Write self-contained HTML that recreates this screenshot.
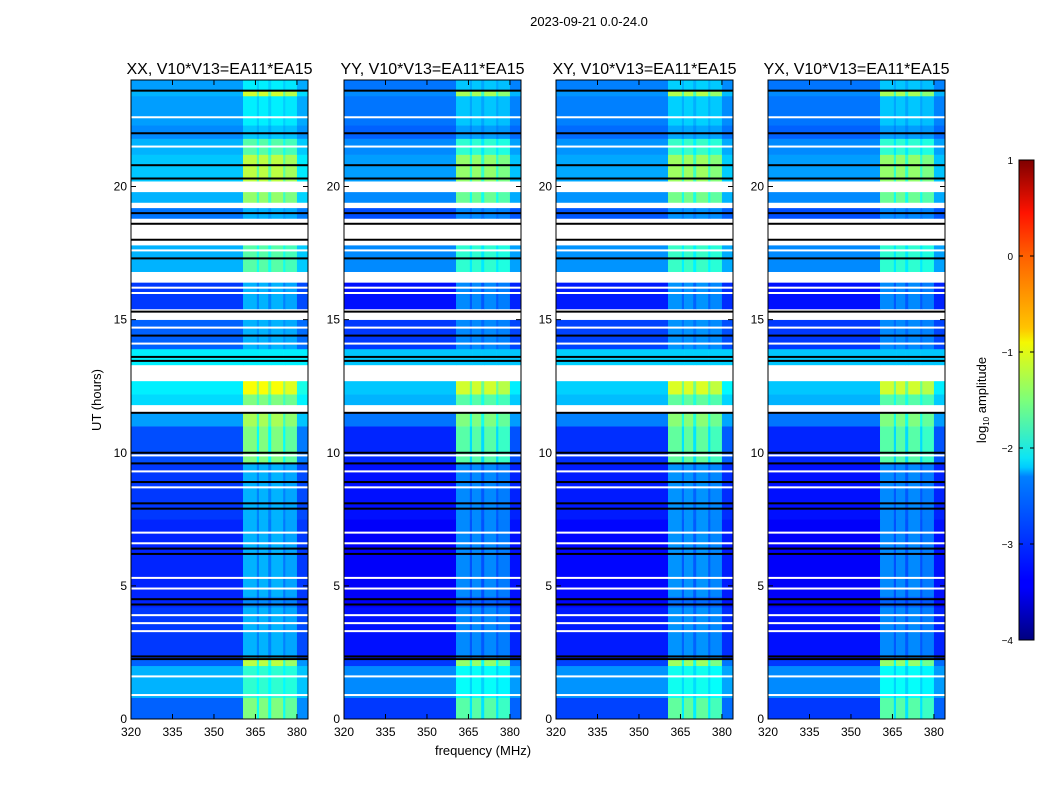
<!DOCTYPE html>
<html><head><meta charset="utf-8">
<style>
html,body{margin:0;padding:0;background:#fff;}
svg{display:block;font-family:"Liberation Sans","DejaVu Sans",sans-serif;}
</style></head>
<body>
<svg id="chart" width="1050" height="800" viewBox="0 0 1050 800">
<defs>
<linearGradient id="jet" x1="0" y1="1" x2="0" y2="0">
<stop offset="0" stop-color="#00007f"/><stop offset="0.11" stop-color="#0000ff"/>
<stop offset="0.125" stop-color="#0000ff"/><stop offset="0.34" stop-color="#0080ff"/>
<stop offset="0.36" stop-color="#00ccff"/><stop offset="0.38" stop-color="#0de5f4"/>
<stop offset="0.5" stop-color="#7dff7a"/><stop offset="0.62" stop-color="#f4f802"/>
<stop offset="0.65" stop-color="#ffc400"/><stop offset="0.8" stop-color="#ff6000"/>
<stop offset="0.89" stop-color="#ff1300"/><stop offset="1" stop-color="#7f0000"/>
</linearGradient>
</defs>
<text x="589" y="26" font-size="13" text-anchor="middle">2023-09-21 0.0-24.0</text>
<text transform="translate(101,400) rotate(-90)" font-size="13" text-anchor="middle">UT (hours)</text>
<text x="483" y="755" font-size="13" text-anchor="middle">frequency (MHz)</text>
<g id="panels"></g>
<g>
<rect x="1019" y="160" width="15" height="480" fill="url(#jet)" stroke="#000" stroke-width="1"/>
<g id="cbticks"></g>
<text transform="translate(986,400) rotate(-90)" font-size="13" text-anchor="middle">log<tspan font-size="8" dy="3">10</tspan><tspan dy="-3"> amplitude</tspan></text>
</g>
</svg>
<script>
// ---- data ----
const panelTitles = ["XX, V10*V13=EA11*EA15","YY, V10*V13=EA11*EA15","XY, V10*V13=EA11*EA15","YX, V10*V13=EA11*EA15"];
const panelOffset = [0.1, -0.1, -0.05, -0.1];
// time segments (hours): start, end, off-band level, in-band level (null = flagged/white)
const segStart = [0.0,0.8,2.0,2.3,4.2,4.6,7.5,9.6,11.0,11.5,11.8,12.2,12.7,13.3,13.9,15.0,15.4,16.4,16.8,17.8,18.8,19.2,19.4,19.8,20.2,21.2,21.8,22.3,23.4,23.6];
const segEnd   = [0.8,2.0,2.3,4.2,4.6,7.5,9.6,11.0,11.5,11.8,12.2,12.7,13.3,13.9,15.0,15.4,16.4,16.8,17.8,18.8,19.2,19.4,19.8,20.2,21.2,21.8,22.3,23.4,23.6,24.0];
const segBase  = [-3.0,-2.6,-3.0,-3.2,-3.3,-3.3,-3.2,-3.1,-2.7,null,-2.4,-2.3,null,-2.3,-3.0,null,-3.2,null,-2.6,null,-2.9,null,-2.6,null,-2.5,-2.6,-2.8,-2.7,-2.6,-2.7];
const segBand  = [-1.6,-2.0,-1.3,-2.6,-2.8,-2.6,-2.6,-1.6,-1.4,null,-1.6,-1.0,null,-2.3,-2.6,null,-2.6,null,-1.8,null,-2.6,null,-1.5,null,-1.3,-1.8,-2.5,-2.3,-1.2,-2.3];
// frequency bins (MHz) and in-band weights
const freqEdges = [320,360.5,365.5,366.3,369.6,370.7,375,375.8,380,384];
const bandWeight = [0,1,0.6,1,0.6,1,0.6,0.9,0.15];
// thin flag lines (hours)
const blackLines = [2.25,2.35,4.3,4.5,6.2,6.4,7.9,8.1,8.9,9.6,10.0,11.5,13.45,13.6,14.4,15.3,17.3,18.0,18.6,19.0,20.3,20.8,22.0,23.6];
const whiteLines = [0.9,1.6,3.3,3.6,3.9,4.9,5.3,6.6,7.0,8.7,9.3,9.9,12.9,14.1,14.7,16.0,16.2,17.6,18.2,21.5,22.6];
const xTicks = [320,335,350,365,380];
const yTicks = [0,5,10,15,20];
const cbTicks = [-4,-3,-2,-1,0,1];

// ---- scales ----
const panelLeft = [131,344,556,768], pW = 177, pTop = 80, pH = 639;
const fMin = 320, fMax = 384, hMin = 0, hMax = 24, vMin = -4, vMax = 1;
function xs(p, f){ return panelLeft[p] + (f - fMin) / (fMax - fMin) * pW; }
function ys(h){ return pTop + pH - (h - hMin) / (hMax - hMin) * pH; }
function jet(v){
  let t = Math.max(0, Math.min(1, (v - vMin) / (vMax - vMin)));
  const c = x => Math.round(255 * Math.max(0, Math.min(1, 1.5 - Math.abs(4 * t - x))));
  return `rgb(${c(3)},${c(2)},${c(1)})`;
}
const NS = "http://www.w3.org/2000/svg";
function mk(tag, attrs, parent){
  const e = document.createElementNS(NS, tag);
  for (const k in attrs) e.setAttribute(k, attrs[k]);
  parent.appendChild(e); return e;
}
const root = document.getElementById("panels");
for (let p = 0; p < 4; p++){
  const g = mk("g", {}, root);
  
  
  for (let s = 0; s < segStart.length; s++){
    const y0 = ys(segEnd[s]), y1 = ys(segStart[s]);
    for (let b = 0; b < bandWeight.length; b++){
      const x0 = xs(p, freqEdges[b]), x1 = xs(p, freqEdges[b+1]);
      let fill = "#fff";
      if (segBase[s] !== null){
        const base = segBase[s] + panelOffset[p], band = segBand[s] + panelOffset[p];
        fill = jet(base + (band - base) * bandWeight[b]);
      }
      const r = mk("rect", {x:x0.toFixed(2), y:y0.toFixed(2), width:(x1-x0+0.3).toFixed(2), height:(y1-y0+0.3).toFixed(2), fill:fill}, g);
      
      
    }
  }
  blackLines.forEach(h => {
    const l = mk("rect", {x:panelLeft[p], y:(ys(h)-1).toFixed(2), width:pW, height:2, fill:"#000"}, g);
    
    
  });
  whiteLines.forEach(h => {
    const l = mk("rect", {x:panelLeft[p], y:(ys(h)-1).toFixed(2), width:pW, height:2, fill:"#fff"}, g);
    
    
  });
  const fr = mk("rect", {x:panelLeft[p], y:pTop, width:pW, height:pH, fill:"none", stroke:"#000", "stroke-width":1}, g);
  
  
  const t = mk("text", {x:panelLeft[p] + pW/2, y:74, "font-size":16, "text-anchor":"middle"}, g);
  t.textContent = panelTitles[p];
  
  
  xTicks.forEach(f => {
    const x = xs(p, f);
    mk("line", {x1:x, x2:x, y1:pTop+pH, y2:pTop+pH-5, stroke:"#000"}, g);
    mk("line", {x1:x, x2:x, y1:pTop, y2:pTop+5, stroke:"#000"}, g);
    const tl = mk("text", {x:x, y:pTop+pH+17, "font-size":12, "text-anchor":"middle"}, g);
    tl.textContent = f;
    
    
  });
  yTicks.forEach(h => {
    const y = ys(h);
    mk("line", {x1:panelLeft[p], x2:panelLeft[p]+5, y1:y, y2:y, stroke:"#000"}, g);
    mk("line", {x1:panelLeft[p]+pW, x2:panelLeft[p]+pW-5, y1:y, y2:y, stroke:"#000"}, g);
    const tl = mk("text", {x:panelLeft[p]-4, y:y+4, "font-size":12, "text-anchor":"end"}, g);
    tl.textContent = h;
    
    
  });
}
const cbg = document.getElementById("cbticks");
cbTicks.forEach(v => {
  const y = 640 - (v - vMin) / (vMax - vMin) * 480;
  mk("line", {x1:1019, x2:1023, y1:y, y2:y, stroke:"#000"}, cbg);
  mk("line", {x1:1030, x2:1034, y1:y, y2:y, stroke:"#000"}, cbg);
  const tl = mk("text", {x:1013, y:y+4, "font-size":10, "text-anchor":"end"}, cbg);
  tl.textContent = v < 0 ? "\u2212" + Math.abs(v) : String(v);
  
  
});
</script>
</body></html>
